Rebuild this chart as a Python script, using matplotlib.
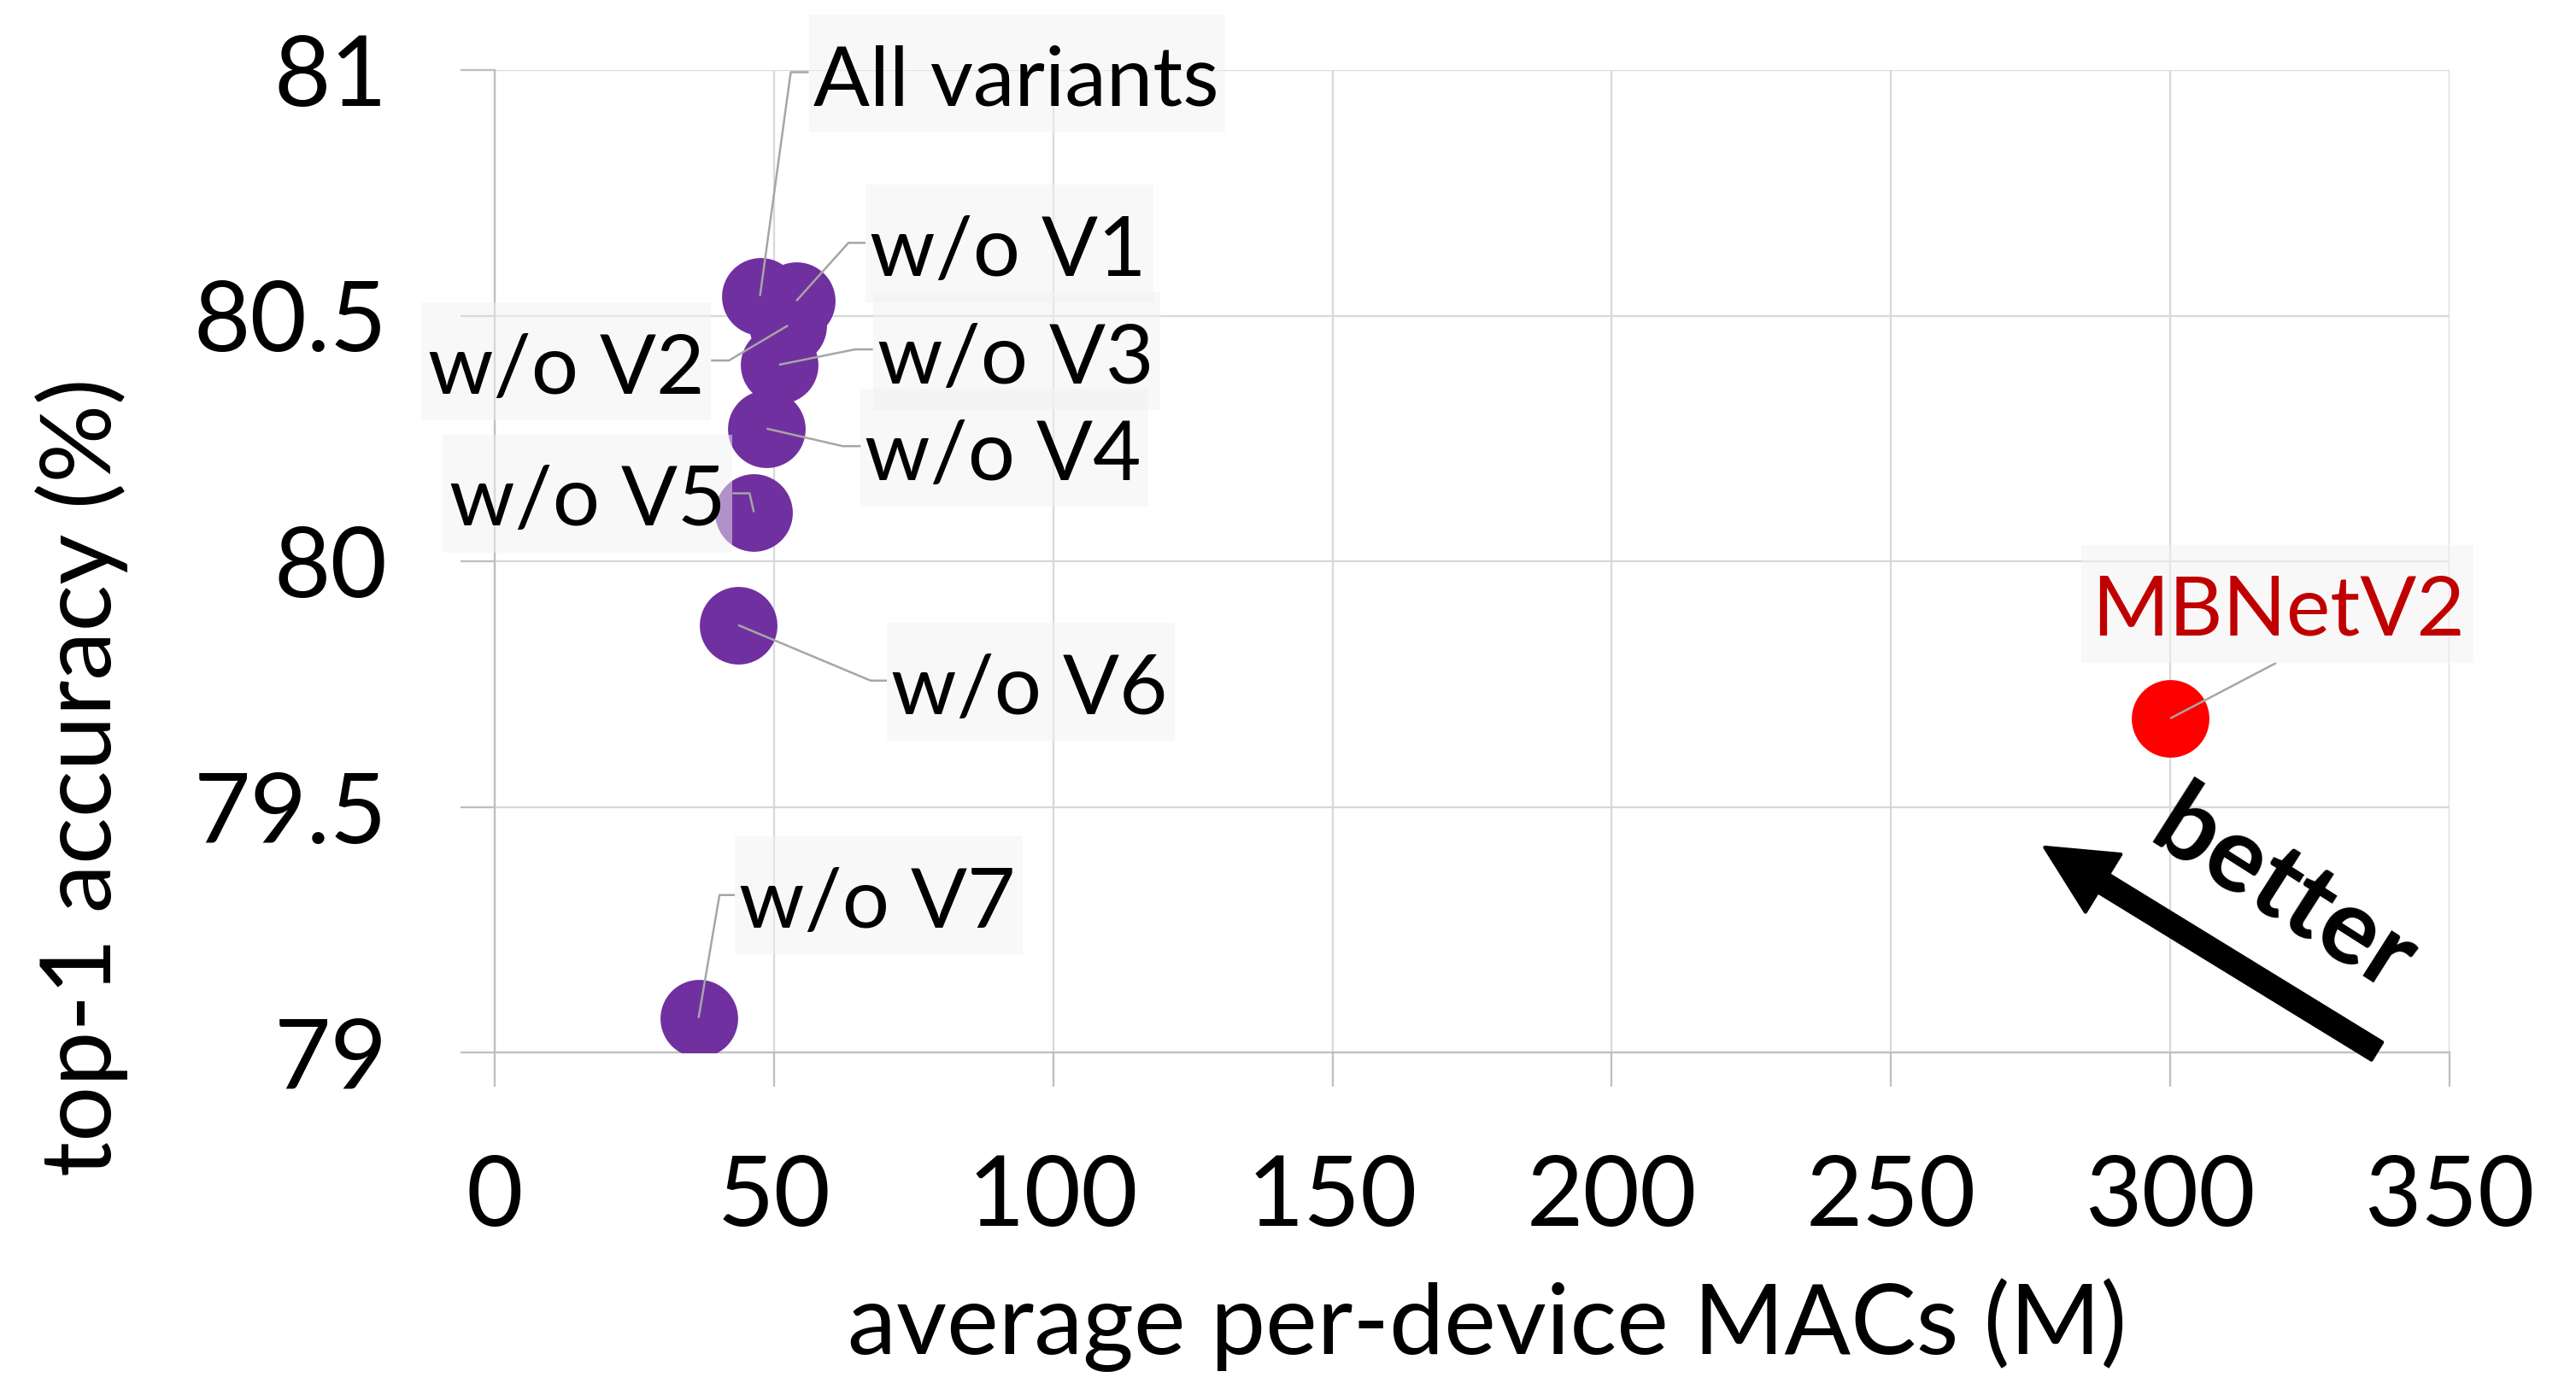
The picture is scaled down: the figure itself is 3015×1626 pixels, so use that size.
import matplotlib
matplotlib.use('Agg')
import matplotlib.pyplot as plt
from matplotlib.patches import Rectangle, FancyArrowPatch
from matplotlib.transforms import IdentityTransform

plt.rcParams['font.family'] = ['Lato', 'DejaVu Sans']

# ---------------- data ----------------
variant_labels = ['All variants', 'w/o V1', 'w/o V2', 'w/o V3',
                  'w/o V4', 'w/o V5', 'w/o V6', 'w/o V7']
variant_macs = [47.5, 54.0, 52.5, 50.9, 48.7, 46.4, 43.6, 36.5]
variant_acc = [80.54, 80.53, 80.48, 80.40, 80.27, 80.10, 79.87, 79.07]

baseline_label = 'MBNetV2'
baseline_macs = [300.0]
baseline_acc = [79.68]

x_ticks = [0, 50, 100, 150, 200, 250, 300, 350]
x_tick_labels = ['0', '50', '100', '150', '200', '250', '300', '350']
y_ticks = [79, 79.5, 80, 80.5, 81]
y_tick_labels = ['79', '79.5', '80', '80.5', '81']

x_title = 'average per-device MACs (M)'
y_title = 'top-1 accuracy (%)'
arrow_text = 'better'

# ---------------- layout (pixel offsets, image y-down) ----------------
# side, text anchor (dx, dy baseline), elbow, attach point
label_layout = [
    ('left',  (62, -223), (36, -262), (57, -262)),
    ('left',  (86, -29),  (61, -68),  (81, -68)),
    ('right', (-98, 80),  (-69, 41),  (-90, 41)),
    ('left',  (115, 22),  (89, -18),  (110, -18)),
    ('left',  (115, 60),  (89, 20.5), (110, 20.5)),
    ('right', (-33, 16),  (-5, -22),  (-25, -22)),
    ('left',  (179, 104), (155, 65),  (174, 65)),
    ('left',  (47.5, -106), (24.5, -144), (42.5, -144)),
]
base_layout = ((126, -97), (124, -65))

W, H, DPI = 3015, 1626, 300
fig = plt.figure(figsize=(W / DPI, H / DPI), dpi=DPI)
ax = fig.add_axes([579 / W, 1 - 1232 / H, 2288 / W, 1150 / H])

ax.set_xlim(0, 350)
ax.set_ylim(79, 81)
ax.set_xticks(x_ticks)
ax.set_xticklabels(x_tick_labels)
ax.set_yticks(y_ticks)
ax.set_yticklabels(y_tick_labels)

grid_c = '#D9D9D9'
axis_c = '#BFBFBF'
ax.grid(True, color=grid_c, linewidth=0.55)
ax.set_axisbelow(True)
for s in ['top', 'right']:
    ax.spines[s].set_visible(False)
for s in ['left', 'bottom']:
    ax.spines[s].set_color(axis_c)
    ax.spines[s].set_linewidth(0.55)
ax.tick_params(axis='both', direction='out', length=9.6, width=0.55,
               color=axis_c, labelsize=27.5, labelcolor='black')
ax.tick_params(axis='x', pad=19)
ax.tick_params(axis='y', pad=20.6)

ax.scatter(variant_macs, variant_acc, s=475, c='#7030A0', linewidths=0, zorder=3)
ax.scatter(baseline_macs, baseline_acc, s=475, c='#FF0000', linewidths=0, zorder=3)

fig.text(1741 / W, 1 - 1585 / H, x_title, ha='center', va='baseline', fontsize=27.5)
fig.text(130 / W, 1 - 910 / H, y_title, ha='center', va='baseline', fontsize=27.5,
         rotation=90, rotation_mode='anchor')

# arrow "better"
arr = FancyArrowPatch(posA=(0.9628, 0.0014), posB=(0.793, 0.2087),
                      transform=ax.transAxes,
                      arrowstyle='simple,head_length=0.96,head_width=0.95,tail_width=0.29',
                      mutation_scale=20, color='black', shrinkA=0, shrinkB=0,
                      clip_on=False, zorder=5)
ax.add_patch(arr)
ax.text(0.9152, 0.1609, arrow_text, transform=ax.transAxes, rotation=-32.5,
        rotation_mode='anchor', ha='center', va='center', fontsize=29.5,
        fontweight='bold', zorder=6)

k = 72.0 / DPI
texts = []
for i, lab in enumerate(variant_labels):
    side, (tx, ty), _, _ = label_layout[i]
    t = ax.annotate(lab, xy=(variant_macs[i], variant_acc[i]),
                    xytext=(tx * k, -ty * k), textcoords='offset points',
                    ha=side, va='baseline', fontsize=23.4, color='black',
                    zorder=7, annotation_clip=False)
    texts.append(t)
(btx, bty), (blx, bly) = base_layout
bt = ax.annotate(baseline_label, xy=(baseline_macs[0], baseline_acc[0]),
                 xytext=(btx * k, -bty * k), textcoords='offset points',
                 ha='center', va='baseline', fontsize=23.4, color='#C00000',
                 zorder=7, annotation_clip=False)

fig.canvas.draw()
renderer = fig.canvas.get_renderer()

box_fc = '#F2F2F2'
lead_c = '#A6A6A6'
for i, t in enumerate(texts):
    side, (tx, ty), (ex, ey), (axx, ayy) = label_layout[i]
    px, py = ax.transData.transform((variant_macs[i], variant_acc[i]))
    ext = t.get_window_extent(renderer)
    base_y = py - ty
    if side == 'left':
        x0 = px + axx
        x1 = ext.x1 + 8
    else:
        x1 = px + axx
        x0 = ext.x0 - 8
    rect = Rectangle((x0, base_y - 31), x1 - x0, 138, transform=IdentityTransform(),
                     facecolor=box_fc, edgecolor='none', alpha=0.5, zorder=5,
                     clip_on=False)
    ax.add_patch(rect)
    ax.plot([px, px + ex, px + axx], [py, py - ey, py - ayy],
            transform=IdentityTransform(), color=lead_c, lw=0.6, zorder=4,
            clip_on=False, solid_capstyle='butt')

px, py = ax.transData.transform((baseline_macs[0], baseline_acc[0]))
ext = bt.get_window_extent(renderer)
base_y = py - bty
rect = Rectangle((ext.x0 - 12, base_y - 32), ext.width + 22, 138,
                 transform=IdentityTransform(), facecolor=box_fc, edgecolor='none',
                 alpha=0.5, zorder=5, clip_on=False)
ax.add_patch(rect)
ax.plot([px, px + blx], [py, py - bly], transform=IdentityTransform(),
        color=lead_c, lw=0.6, zorder=4, clip_on=False, solid_capstyle='butt')

fig.savefig('out.png', dpi=DPI)
